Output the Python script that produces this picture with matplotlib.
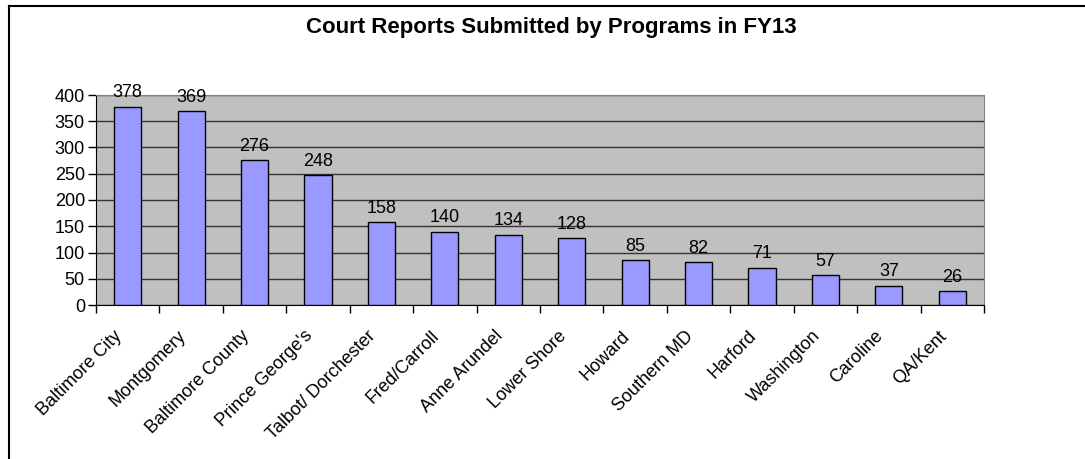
import matplotlib.pyplot as plt
import matplotlib.transforms as mtransforms
from matplotlib.lines import Line2D

plt.rcParams['font.family'] = ['Liberation Sans', 'DejaVu Sans']

programs = ["Baltimore City", "Montgomery", "Baltimore County", "Prince George's",
            "Talbot/ Dorchester", "Fred/Carroll", "Anne Arundel", "Lower Shore",
            "Howard", "Southern MD", "Harford", "Washington", "Caroline", "QA/Kent"]
reports = [378, 369, 276, 248, 158, 140, 134, 128, 85, 82, 71, 57, 37, 26]
y_ticks = [0, 50, 100, 150, 200, 250, 300, 350, 400]

W, H = 1085, 459
fig = plt.figure(figsize=(W / 100, H / 100), dpi=100)
fig.patch.set_facecolor('white')

# plot area in pixels: left 96, right 984, top 95, bottom 305
ax = fig.add_axes([96 / W, 1 - 305 / H, (984 - 96) / W, (305 - 95) / H])
ax.set_facecolor('#C0C0C0')

x = list(range(len(programs)))
ax.bar(x, reports, width=0.43, color='#9999FF', edgecolor='black', linewidth=1, zorder=3)

for xi, v in zip(x, reports):
    ax.text(xi, v + 10, str(v), ha='center', va='bottom', fontsize=13, zorder=4)

ax.set_xlim(-0.5, len(programs) - 0.5)
ax.set_ylim(0, 400)
ax.set_yticks(y_ticks)
ax.yaxis.grid(True, color='#333333', linewidth=1, zorder=1)
ax.set_axisbelow(True)

ax.set_xticks([i - 0.5 for i in range(len(programs) + 1)], minor=False)
ax.set_xticklabels([])
ax.set_xticks(x, minor=True)
ax.set_xticklabels(programs, minor=True, rotation=45, ha='right',
                   rotation_mode='anchor', fontsize=13)
ax.tick_params(axis='x', which='minor', length=0, pad=14)
ax.tick_params(axis='x', which='major', length=6, width=1, color='black')
ax.tick_params(axis='y', length=6, width=1, labelsize=13, pad=2)

# nudge the slanted labels left like the original
shift = mtransforms.ScaledTranslation(-14 / 100, -3 / 100, fig.dpi_scale_trans)
for lab in ax.get_xticklabels(minor=True):
    lab.set_transform(lab.get_transform() + shift)

for s in ['top', 'right']:
    ax.spines[s].set_color('#808080')
ax.spines['left'].set_color('black')
ax.spines['bottom'].set_color('black')

fig.text(551 / W, 1 - 27 / H, 'Court Reports Submitted by Programs in FY13',
         ha='center', va='center', fontsize=16, fontweight='bold')

# outer chart border (top and left visible)
fig.add_artist(Line2D([9 / W, 1], [1 - 6 / H, 1 - 6 / H], color='black', linewidth=1.5))
fig.add_artist(Line2D([9 / W, 9 / W], [0, 1 - 6 / H], color='black', linewidth=1.5))

fig.savefig('out.png', dpi=100)
